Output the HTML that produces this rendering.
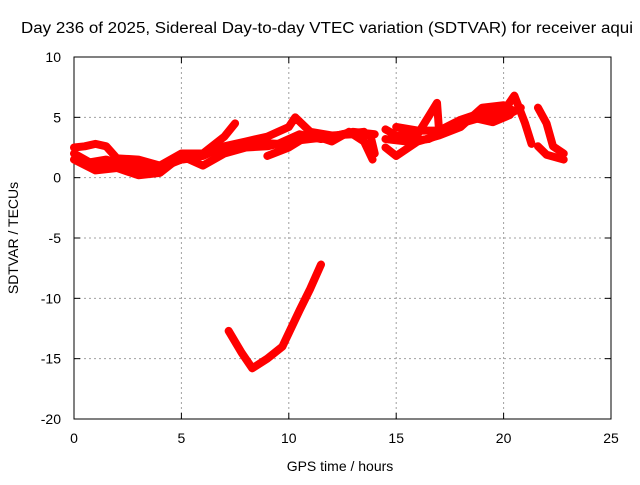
<!DOCTYPE html>
<html><head><style>
body{margin:0;background:#fff}
svg text{font-family:"Liberation Sans",Arial,sans-serif;font-size:14px;fill:#000}
</style></head><body>
<svg id="chart" width="640" height="480">
<text x="21" y="33" style="font-size:15.5px" textLength="612" lengthAdjust="spacingAndGlyphs">Day 236 of 2025, Sidereal Day-to-day VTEC variation (SDTVAR) for receiver aqui</text>
<g id="grid"></g>
<g id="axes"></g>
<g id="series"></g>
<text x="340" y="471" text-anchor="middle">GPS time / hours</text>
<text transform="translate(18,238) rotate(-90)" text-anchor="middle">SDTVAR / TECUs</text>
</svg>
<script>
const xTicks=[0,5,10,15,20,25];
const yTicks=[10,5,0,-5,-10,-15,-20];
const trace1=[[0,2.5],[0.5,2.6],[1,2.8],[1.5,2.6],[2,1.6],[3,1.5],[4,1.0],[5,2.0],[6,2.0],[7,3.4],[7.5,4.5]];
const trace2=[[0,1.5],[1,0.6],[2,0.8],[3,0.2],[4,0.4],[5,1.8],[6,1.0],[7,2.0],[8,2.5],[9,2.6],[10,3.0],[11,3.2],[12,3.4],[13,3.8],[14,3.6]];
const trace3=[[0,2.0],[1,1.0],[2,1.2],[3,1.0],[4,0.8],[5,1.5],[6,1.8],[7,2.6],[8,3.0],[9,3.4],[10,4.2],[10.3,5.0],[11,3.8],[12,3.5],[13,3.6],[13.8,3.5],[14,2.0]];
const trace4=[[9,1.8],[10,2.5],[11,3.6],[12,3.0],[12.8,3.8],[13.5,3.0],[13.9,1.5]];
const trace5=[[14.5,4.0],[15,3.5],[16,3.6],[16.9,6.2],[17,3.8],[18,4.5],[19,5.0],[20,5.5],[20.5,6.8],[21,4.5],[21.3,2.8]];
const trace6=[[14.5,2.5],[15,1.8],[16,3.0],[17,3.5],[18,4.2],[19,5.8],[20,6.0],[20.5,5.5]];
const trace7=[[14.5,3.2],[15.5,3.0],[16.5,3.2],[17.5,4.0],[18.5,5.0],[19.5,4.6],[20.3,5.2]];
const trace8=[[21.6,5.8],[22,4.5],[22.3,2.6],[22.8,2.0]];
const trace9=[[21.6,2.6],[22,1.9],[22.8,1.5]];
const trace10=[[7.2,-12.7],[7.8,-14.5],[8.3,-15.8],[9,-15],[9.7,-14],[10.5,-11],[11,-9.2],[11.5,-7.2]];
const trace11=[[0.5,1.2],[1.5,1.5],[2.5,0.9],[3.5,0.6],[4.5,1.4],[5.5,1.6],[6.5,2.2],[7.5,2.4],[8.5,2.9],[9.5,2.8],[10.5,3.6],[11.5,3.2],[12.5,3.6],[13.5,3.8]];
const trace12=[[15,4.2],[16,3.9],[17,3.9],[18,4.8],[19,5.4],[20,5.0],[20.8,5.8]];
const allTraces=[trace1,trace2,trace3,trace4,trace5,trace6,trace7,trace8,trace9,trace10,trace11,trace12];
const X=h=>74+h*(611-74)/25;
const Y=v=>419-(v+20)*(419-57)/30;
const NS="http://www.w3.org/2000/svg";
function mk(t,a,p){const e=document.createElementNS(NS,t);for(const k in a)e.setAttribute(k,a[k]);document.getElementById(p).appendChild(e);return e;}
xTicks.forEach(t=>{
 if(t>0&&t<25){const g=mk('line',{x1:X(t),x2:X(t),y1:57,y2:419,stroke:'#a0a0a0','stroke-dasharray':'2,3'},'grid');
 
 }
 const l=mk('text',{x:X(t),y:443,'text-anchor':'middle'},'axes');l.textContent=t;
 
 
 mk('line',{x1:X(t),x2:X(t),y1:419,y2:413,stroke:'#000'},'axes');
 mk('line',{x1:X(t),x2:X(t),y1:57,y2:63,stroke:'#000'},'axes');
});
yTicks.forEach(t=>{
 if(t>-20&&t<10){const g=mk('line',{x1:74,x2:611,y1:Y(t),y2:Y(t),stroke:'#a0a0a0','stroke-dasharray':'2,3'},'grid');
 
 }
 const l=mk('text',{x:61,y:Y(t)+5,'text-anchor':'end'},'axes');l.textContent=t;
 
 
 mk('line',{x1:74,x2:80,y1:Y(t),y2:Y(t),stroke:'#000'},'axes');
 mk('line',{x1:605,x2:611,y1:Y(t),y2:Y(t),stroke:'#000'},'axes');
});
const fr=mk('rect',{x:74,y:57,width:537,height:362,fill:'none',stroke:'#000'},'axes');


allTraces.forEach(tr=>{
 const p=mk('polyline',{points:tr.map(d=>X(d[0])+','+Y(d[1])).join(' '),fill:'none',stroke:'#ff0000','stroke-width':8,'stroke-linejoin':'round','stroke-linecap':'round'},'series');
 
 
});
</script>
</body></html>
